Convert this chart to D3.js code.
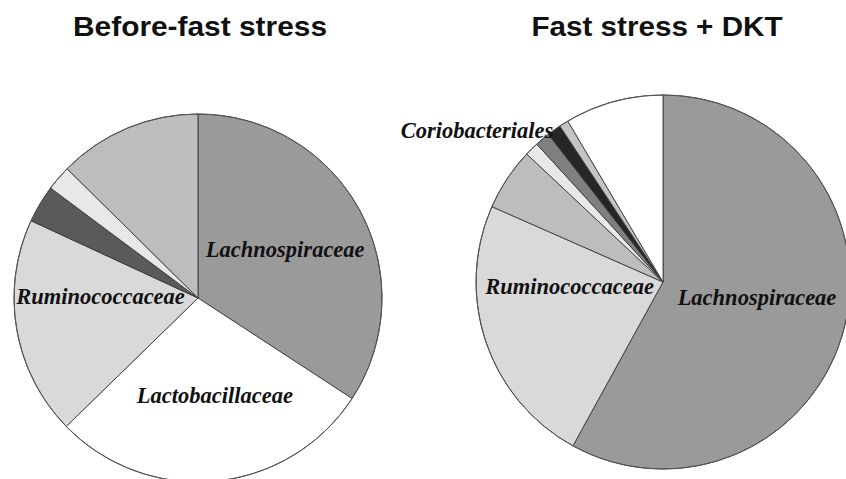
<!DOCTYPE html>
<html>
<head>
<meta charset="utf-8">
<script src="https://cdn.jsdelivr.net/npm/d3@7"></script>
<style>
  body { margin: 0; background: #fff; }
  svg { display: block; }
</style>
</head>
<body>
<div class="svgContainer"></div>
<script>
// Data (percent of reads, clockwise from 12 o'clock)
var BEFORE_NAMES = ["Lachnospiraceae", "Lactobacillaceae", "Ruminococcaceae", "Other 1", "Other 2", "Other 3"];
var BEFORE_VALUES = [34.2, 28.5, 19.2, 3.3, 2.2, 12.6];
var BEFORE_COLORS = ["#9a9a9a", "#ffffff", "#d9d9d9", "#5a5a5a", "#e8e8e8", "#bdbdbd"];

var DKT_NAMES = ["Lachnospiraceae", "Ruminococcaceae", "Other 1", "Other 2", "Other 3", "Coriobacteriales", "Other 4", "Other 5"];
var DKT_VALUES = [58.0, 23.6, 5.4, 1.2, 1.3, 1.2, 0.8, 8.5];
var DKT_COLORS = ["#9a9a9a", "#d9d9d9", "#bdbdbd", "#e8e8e8", "#808080", "#262626", "#c4c4c4", "#ffffff"];

var TITLES = ["Before-fast stress", "Fast stress + DKT"];

// Which slices get a label, and where (angle in degrees, fraction of radius)
var BEFORE_LABELS = [
    {name: "Lachnospiraceae", angle: 61.4, rf: 0.54},
    {name: "Lactobacillaceae", angle: 170.2, rf: 0.54},
    {name: "Ruminococcaceae", angle: 270.6, rf: 0.53}
];
var DKT_LABELS = [
    {name: "Lachnospiraceae", angle: 99.7, rf: 0.51},
    {name: "Ruminococcaceae", angle: 267, rf: 0.50},
    {name: "Coriobacteriales", angle: 309, rf: 1.28}
];

var width = 846, height = 479;

var svg = d3.select(".svgContainer").append("svg")
    .attr("width", width)
    .attr("height", height);

var pie = d3.pie()
    .sort(null)
    .value(function(d) { return d; });

function drawPie(cx, cy, r, values, colors, names, labels, title, titleX, titleW) {
    var g = svg.append("g")
        .attr("transform", "translate(" + cx + "," + cy + ")");

    var arc = d3.arc().innerRadius(0).outerRadius(r);

    g.selectAll("path")
        .data(pie(values))
        .enter().append("path")
        .attr("d", arc)
        .attr("fill", function(d, i) { return colors[i]; })
        .attr("stroke", "#3a3a3a")
        .attr("stroke-width", 0.9);

    // outer rim is a bit lighter than the slice borders
    g.append("circle")
        .attr("r", r)
        .attr("fill", "none")
        .attr("stroke", "#555")
        .attr("stroke-width", 1);

    g.selectAll("text.lbl")
        .data(labels)
        .enter().append("text")
        .attr("class", "lbl")
        .attr("x", function(d) { return r * d.rf * Math.sin(d.angle * Math.PI / 180); })
        .attr("y", function(d) { return -r * d.rf * Math.cos(d.angle * Math.PI / 180); })
        .attr("dy", "0.3em")
        .attr("text-anchor", "middle")
        .style("font-family", "'Liberation Serif', 'Times New Roman', serif")
        .style("font-style", "italic")
        .style("font-weight", "bold")
        .style("font-size", "22.5px")
        .attr("fill", "#111")
        .text(function(d) { return d.name; });

    svg.append("text")
        .attr("x", titleX)
        .attr("y", 36)
        .attr("text-anchor", "middle")
        .attr("textLength", titleW)
        .attr("lengthAdjust", "spacingAndGlyphs")
        .style("font-family", "'Liberation Sans', Arial, sans-serif")
        .style("font-weight", "bold")
        .style("font-size", "27px")
        .attr("fill", "#111")
        .text(title);
}

drawPie(198, 298, 184, BEFORE_VALUES, BEFORE_COLORS, BEFORE_NAMES, BEFORE_LABELS, TITLES[0], 200, 254);
drawPie(663, 282, 187, DKT_VALUES, DKT_COLORS, DKT_NAMES, DKT_LABELS, TITLES[1], 657, 251);
</script>
</body>
</html>
